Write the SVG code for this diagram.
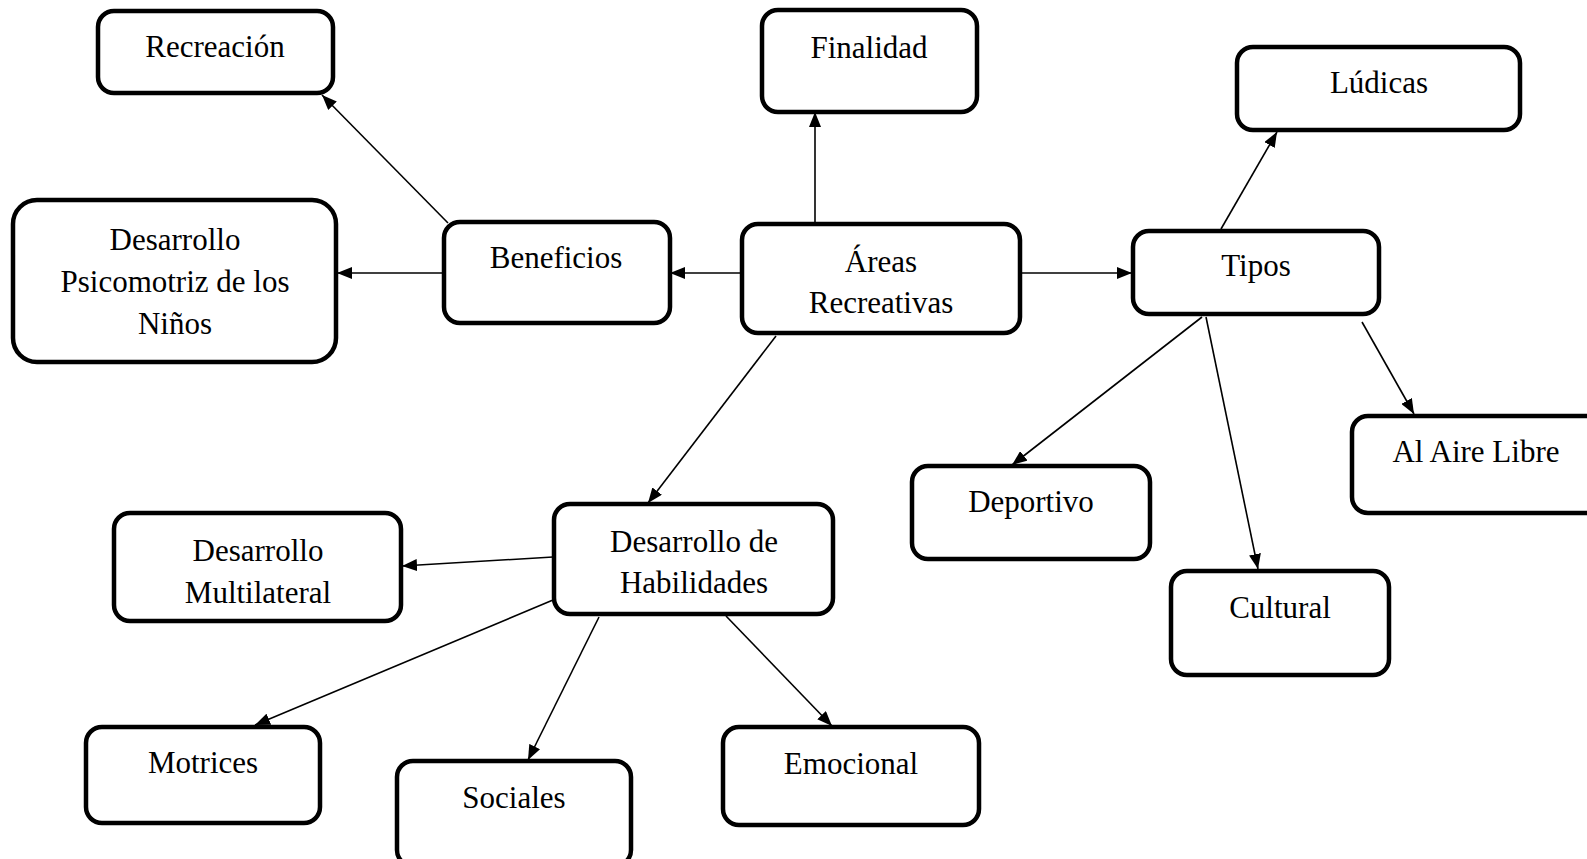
<svg xmlns="http://www.w3.org/2000/svg" width="1587" height="859" viewBox="0 0 1587 859">
<style>
.box{fill:#fff;stroke:#000;stroke-width:4.5}
.t{font-family:"Liberation Serif","Times New Roman",serif;font-size:31px;fill:#000;text-anchor:middle}
.c{stroke:#000;stroke-width:1.6;fill:none;marker-end:url(#ah)}
</style>
<defs>
<marker id="ah" markerUnits="userSpaceOnUse" markerWidth="16" markerHeight="12" refX="15" refY="6" orient="auto">
<path d="M0,0 L15,6 L0,12 z" fill="#000"/>
</marker>
</defs>
<rect width="1587" height="859" fill="#fff"/>
<g id="connectors">
<line class="c" x1="742" y1="273" x2="670" y2="273"/>
<line class="c" x1="815" y1="224" x2="815" y2="112"/>
<line class="c" x1="1020" y1="273" x2="1132" y2="273"/>
<line class="c" x1="776" y1="336" x2="648" y2="503"/>
<line class="c" x1="448" y1="223" x2="322" y2="95"/>
<line class="c" x1="444" y1="273" x2="337" y2="273"/>
<line class="c" x1="1221" y1="229" x2="1277" y2="132"/>
<line class="c" x1="1202" y1="317" x2="1012" y2="465"/>
<line class="c" x1="1206" y1="317" x2="1258" y2="569"/>
<line class="c" x1="1362" y1="322" x2="1414" y2="414"/>
<line class="c" x1="553" y1="557" x2="402" y2="566"/>
<line class="c" x1="553" y1="600" x2="255" y2="725"/>
<line class="c" x1="599" y1="617" x2="528" y2="760"/>
<line class="c" x1="726" y1="616" x2="832" y2="726"/>
</g>
<g id="recreacion"><rect class="box" x="98" y="11" width="235" height="82" rx="16"/><text class="t" x="215" y="57">Recreación</text></g>
<g id="psicomotriz"><rect class="box" x="13" y="200" width="323" height="162" rx="24"/><text class="t" x="175" y="250">Desarrollo</text><text class="t" x="175" y="292">Psicomotriz de los</text><text class="t" x="175" y="334">Niños</text></g>
<g id="beneficios"><rect class="box" x="444" y="222" width="226" height="101" rx="16"/><text class="t" x="556" y="268">Beneficios</text></g>
<g id="finalidad"><rect class="box" x="762" y="10" width="215" height="102" rx="16"/><text class="t" x="869" y="58">Finalidad</text></g>
<g id="ludicas"><rect class="box" x="1237" y="47" width="283" height="83" rx="16"/><text class="t" x="1379" y="93">Lúdicas</text></g>
<g id="areas"><rect class="box" x="742" y="224" width="278" height="109" rx="16"/><text class="t" x="881" y="272">Áreas</text><text class="t" x="881" y="313">Recreativas</text></g>
<g id="tipos"><rect class="box" x="1133" y="231" width="246" height="83" rx="16"/><text class="t" x="1256" y="276">Tipos</text></g>
<g id="deportivo"><rect class="box" x="912" y="466" width="238" height="93" rx="16"/><text class="t" x="1031" y="512">Deportivo</text></g>
<g id="cultural"><rect class="box" x="1171" y="571" width="218" height="104" rx="16"/><text class="t" x="1280" y="618">Cultural</text></g>
<g id="aire-libre"><rect class="box" x="1352" y="416" width="250" height="97" rx="16"/><text class="t" x="1476" y="462">Al Aire Libre</text></g>
<g id="habilidades"><rect class="box" x="554" y="504" width="279" height="110" rx="16"/><text class="t" x="694" y="552">Desarrollo de</text><text class="t" x="694" y="593">Habilidades</text></g>
<g id="multilateral"><rect class="box" x="114" y="513" width="287" height="108" rx="16"/><text class="t" x="258" y="561">Desarrollo</text><text class="t" x="258" y="603">Multilateral</text></g>
<g id="motrices"><rect class="box" x="86" y="727" width="234" height="96" rx="16"/><text class="t" x="203" y="773">Motrices</text></g>
<g id="sociales"><rect class="box" x="397" y="761" width="234" height="105" rx="16"/><text class="t" x="514" y="808">Sociales</text></g>
<g id="emocional"><rect class="box" x="723" y="727" width="256" height="98" rx="16"/><text class="t" x="851" y="774">Emocional</text></g>
</svg>
